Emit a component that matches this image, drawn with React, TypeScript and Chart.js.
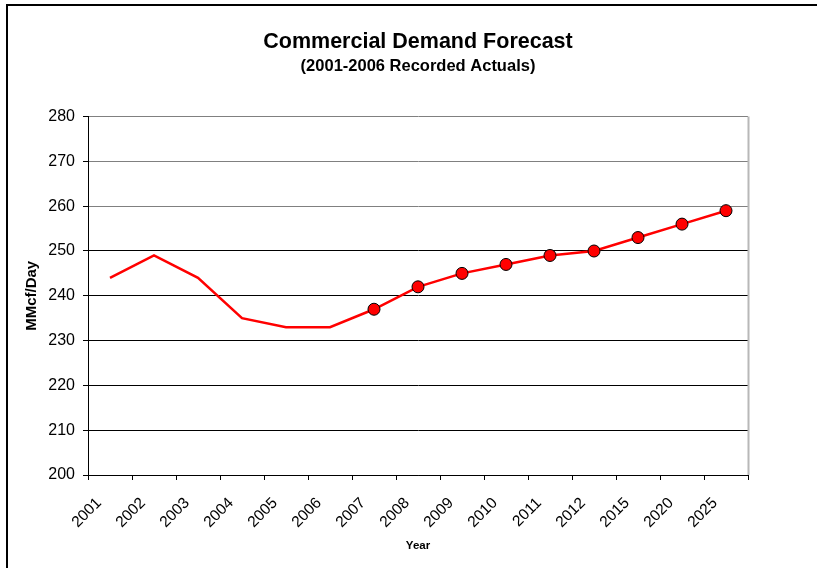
import React, { useEffect, useRef } from "react";
import { Chart, registerables } from "chart.js";

Chart.register(...registerables);

const years: string[] = [
  "2001", "2002", "2003", "2004", "2005", "2006", "2007", "2008",
  "2009", "2010", "2011", "2012", "2015", "2020", "2025",
];
const demand: number[] = [244, 249, 244, 235, 233, 233, 237, 242, 245, 247, 249, 250, 253, 256, 259];
const actualYears: string[] = ["2001", "2002", "2003", "2004", "2005", "2006"];

const FONT = "'Liberation Sans', Arial, Helvetica, sans-serif";

const framePlugin = {
  id: "frame",
  beforeDraw(chart: any) {
    const { ctx, width, height } = chart;
    ctx.save();
    ctx.fillStyle = "#ffffff";
    ctx.fillRect(0, 0, width, height);
    ctx.strokeStyle = "#000000";
    ctx.lineWidth = 2;
    ctx.beginPath();
    ctx.moveTo(6, 5);
    ctx.lineTo(width, 5);
    ctx.moveTo(7, 4);
    ctx.lineTo(7, height);
    ctx.stroke();
    ctx.restore();
  },
  afterDatasetsDraw(chart: any) {
    const { ctx, chartArea } = chart;
    ctx.save();
    ctx.strokeStyle = "#b8b8b8";
    ctx.lineWidth = 2;
    ctx.beginPath();
    ctx.moveTo(chartArea.right + 0.5, chartArea.top);
    ctx.lineTo(chartArea.right + 0.5, chartArea.bottom);
    ctx.stroke();
    ctx.restore();
  },
};

export default function App() {
  const ref = useRef<HTMLCanvasElement | null>(null);

  useEffect(() => {
    if (!ref.current) return;
    const chart = new Chart(ref.current, {
      type: "line",
      data: {
        labels: years,
        datasets: [
          {
            label: "Commercial Demand",
            data: demand,
            borderColor: "#ff0000",
            borderWidth: 2.5,
            backgroundColor: "#ff0000",
            pointBackgroundColor: "#ff0000",
            pointBorderColor: "#000000",
            pointBorderWidth: 1,
            pointRadius: years.map((y) => (actualYears.includes(y) ? 0 : 6)),
            pointHoverRadius: years.map((y) => (actualYears.includes(y) ? 0 : 6)),
            tension: 0,
            fill: false,
          },
        ],
      },
      options: {
        animation: false,
        responsive: false,
        maintainAspectRatio: false,
        layout: { padding: { top: 0, left: 0, right: 69, bottom: 0 } },
        plugins: {
          legend: { display: false },
          tooltip: { enabled: false },
          title: {
            display: true,
            text: "Commercial Demand Forecast",
            fullSize: false,
            color: "#000",
            font: { family: FONT, size: 21.5, weight: "bold", lineHeight: 1.2 },
            padding: { top: 29, bottom: 2 },
          },
          subtitle: {
            display: true,
            text: "(2001-2006 Recorded Actuals)",
            fullSize: false,
            color: "#000",
            font: { family: FONT, size: 16.5, weight: "bold", lineHeight: 1.2 },
            padding: { top: 0, bottom: 40 },
          },
        },
        scales: {
          x: {
            type: "category",
            offset: true,
            afterFit: (scale: any) => {
              scale.height = 93;
            },
            grid: {
              offset: true,
              drawOnChartArea: false,
              drawTicks: true,
              tickLength: 5,
              tickColor: "#000",
            },
            border: { display: true, color: "#000", width: 1 },
            ticks: {
              color: "#000",
              font: { family: FONT, size: 15.5 },
              maxRotation: 45,
              minRotation: 45,
              autoSkip: false,
              padding: 14,
              labelOffset: -11,
            },
            title: {
              display: true,
              text: "Year",
              color: "#000",
              font: { family: FONT, size: 11.5, weight: "bold", lineHeight: 1.2 },
              padding: { top: 0, bottom: 15 },
            },
          },
          y: {
            min: 200,
            max: 280,
            afterFit: (scale: any) => {
              scale.width = 88;
            },
            grid: {
              color: (ctx: any) => (ctx.tick && ctx.tick.value >= 260 ? "#808080" : "#000000"),
              lineWidth: 1,
              drawTicks: true,
              tickLength: 5,
              tickColor: "#000",
            },
            border: { display: true, color: "#000", width: 1 },
            ticks: {
              stepSize: 10,
              color: "#000",
              font: { family: FONT, size: 16 },
              padding: 8,
            },
            title: {
              display: true,
              text: "MMcf/Day",
              color: "#000",
              font: { family: FONT, size: 15, weight: "bold", lineHeight: 1.2 },
              padding: { top: 23, bottom: 4 },
            },
          },
        },
      },
      plugins: [framePlugin],
    });
    return () => chart.destroy();
  }, []);

  return (
    <div style={{ position: "fixed", left: 0, top: 0, width: 817, height: 568, background: "#fff" }}>
      <canvas ref={ref} width={817} height={568} style={{ display: "block", width: 817, height: 568 }} />
    </div>
  );
}
